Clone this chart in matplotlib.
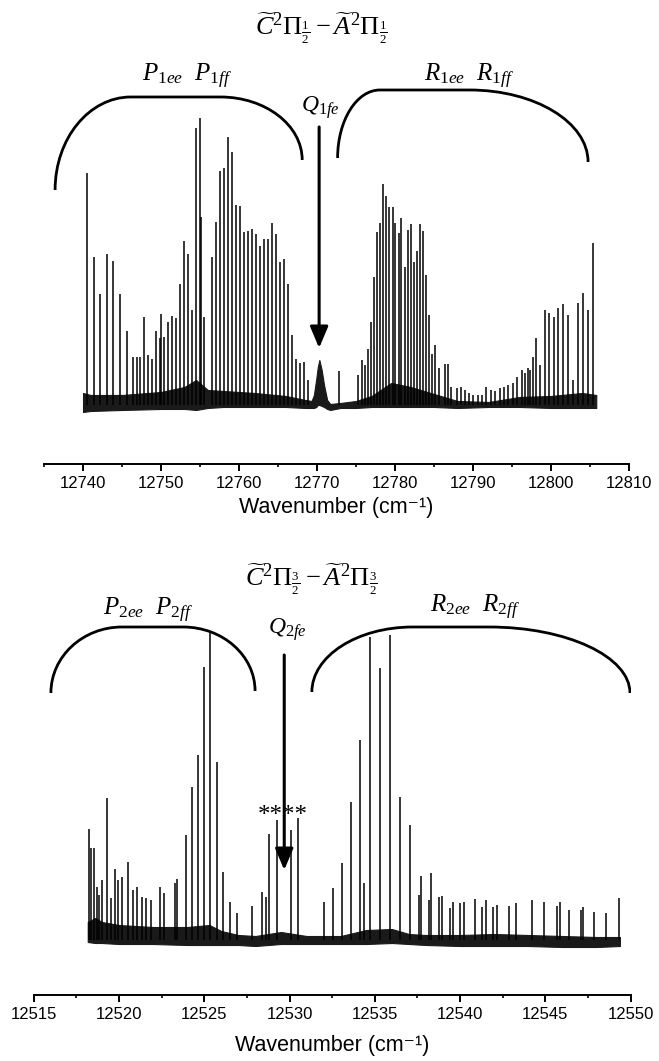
import matplotlib
matplotlib.use("Agg")
from matplotlib import pyplot as plt
from matplotlib.path import Path
from matplotlib.patches import PathPatch

plt.rcParams["font.family"] = "Liberation Sans"
plt.rcParams["mathtext.fontset"] = "custom"
plt.rcParams["mathtext.rm"] = "Liberation Serif"
plt.rcParams["mathtext.it"] = "Liberation Serif:italic"
plt.rcParams["mathtext.sf"] = "Liberation Sans"

# ---- upper spectrum: C2Pi(1/2) - A2Pi(1/2) ----
top_peak_wn = [
    12740.55, 12741.37, 12742.17, 12743.03, 12743.87, 12744.76, 12745.62, 12746.43, 12746.86, 12747.32,
    12747.79, 12748.34, 12748.85, 12749.32, 12749.83, 12750.05, 12750.34, 12750.86, 12751.37, 12751.88,
    12752.39, 12752.90, 12753.45, 12753.92, 12754.43, 12754.94, 12755.07, 12755.49, 12756.48, 12756.99,
    12757.54, 12758.05, 12758.61, 12759.12, 12759.63, 12760.14, 12760.65, 12761.16, 12761.67, 12762.18,
    12762.69, 12763.21, 12763.75, 12764.27, 12764.78, 12765.29, 12765.80, 12766.31, 12766.82, 12767.33,
    12767.84, 12768.35, 12768.86, 12772.82, 12775.29, 12775.72, 12776.10, 12776.53, 12776.91, 12777.33,
    12777.71, 12778.10, 12778.48, 12778.86, 12779.25, 12779.68, 12780.06, 12780.45, 12780.83, 12781.25,
    12781.63, 12782.02, 12782.44, 12782.82, 12783.21, 12783.64, 12784.02, 12784.41, 12784.79, 12785.17,
    12785.59, 12786.36, 12786.74, 12787.13, 12787.89, 12788.40, 12788.95, 12789.46, 12790.06, 12790.61,
    12791.17, 12791.72, 12792.27, 12792.83, 12793.42, 12793.98, 12794.53, 12795.08, 12795.64, 12796.23,
    12796.67, 12797.00, 12797.34, 12797.73, 12798.11, 12798.58, 12799.22, 12799.77, 12800.37, 12800.92,
    12801.56, 12802.16, 12802.84, 12803.47, 12804.11, 12804.75, 12805.39,
]
top_peak_int = [
    232, 148, 111, 151, 144, 111, 74, 48, 48, 48,
    88, 50, 46, 74, 67, 91, 68, 83, 89, 87,
    121, 164, 151, 95, 277, 287, 188, 88, 148, 183,
    234, 237, 268, 253, 200, 199, 173, 174, 176, 171,
    159, 166, 166, 182, 171, 143, 146, 121, 70, 46,
    42, 43, 25, 34, 30, 45, 40, 56, 83, 128,
    173, 182, 221, 209, 198, 198, 182, 172, 187, 138,
    175, 181, 143, 154, 181, 174, 130, 90, 51, 60,
    37, 41, 41, 18, 17, 18, 15, 12, 10, 10,
    10, 18, 15, 14, 17, 18, 20, 22, 28, 35,
    32, 37, 35, 48, 67, 40, 95, 92, 88, 97,
    101, 90, 25, 102, 112, 95, 162,
]
# noise band (lower / upper envelope), includes the broad Q1fe bump near 12770
top_noise_wn = [12740.0, 12741.0, 12745.0, 12750.0, 12753.0, 12754.5, 12756.0, 12758.0, 12762.0, 12766.0,
                12768.5, 12769.3, 12769.6, 12769.9, 12770.1, 12770.3, 12770.6, 12770.9, 12771.3, 12771.7,
                12773.0, 12775.0, 12777.0, 12779.5, 12782.0, 12785.0, 12788.0, 12792.0, 12796.0, 12800.0,
                12804.0, 12805.8]
top_noise_hi = [12, 10, 10, 13, 18, 25, 15, 14, 12, 9,
                5, 4, 10, 26, 38, 45, 35, 20, 5, 1,
                2, 4, 9, 22, 18, 11, 4, 3, 8, 9,
                12, 10]
top_noise_lo = [-7, -6, -5, -4, -4, -5, -3, -2, -2, -2,
                -3, -3, -3, -2, 0, 0, -1, -2, -4, -5,
                -3, -3, -2, -2, -2, -2, -3, -2, -2, -3,
                -3, -3]

# ---- lower spectrum: C2Pi(3/2) - A2Pi(3/2) ----
bot_peak_wn = [
    12518.26, 12518.34, 12518.55, 12518.69, 12518.85, 12519.02, 12519.31, 12519.53, 12519.75, 12519.96,
    12520.18, 12520.53, 12520.80, 12521.06, 12521.33, 12521.58, 12521.86, 12522.39, 12522.64, 12523.30,
    12523.42, 12523.93, 12524.28, 12524.61, 12524.98, 12525.33, 12525.73, 12526.10, 12526.51, 12526.90,
    12527.78, 12528.36, 12528.60, 12528.79, 12529.24, 12530.08, 12530.51, 12532.02, 12532.53, 12533.05,
    12533.62, 12534.16, 12534.38, 12534.73, 12535.30, 12535.88, 12536.45, 12537.04, 12537.57, 12537.69,
    12538.15, 12538.29, 12538.77, 12538.92, 12539.41, 12539.56, 12540.01, 12540.20, 12540.85, 12541.28,
    12541.49, 12541.90, 12542.14, 12542.88, 12543.25, 12544.23, 12544.93, 12545.66, 12545.85, 12546.36,
    12547.06, 12547.22, 12547.84, 12548.55, 12549.31,
]
bot_peak_int = [
    111, 92, 92, 53, 45, 60, 142, 42, 71, 60,
    63, 78, 50, 53, 43, 42, 40, 53, 47, 57,
    61, 105, 153, 185, 273, 307, 178, 68, 38, 27,
    34, 48, 43, 106, 120, 110, 122, 38, 52, 77,
    138, 200, 57, 303, 272, 305, 143, 115, 45, 64,
    40, 67, 43, 44, 32, 38, 37, 38, 41, 33,
    40, 33, 35, 34, 37, 40, 38, 34, 38, 30,
    30, 33, 28, 27, 42,
]
bot_noise_wn = [12518.17, 12518.6, 12519.0, 12520.0, 12522.0, 12524.0, 12525.3, 12526.0, 12527.0, 12528.0,
                12529.5, 12531.0, 12533.0, 12534.5, 12536.0, 12537.0, 12538.0, 12540.0, 12542.0, 12544.0,
                12546.0, 12548.0, 12549.37]
bot_noise_hi = [18, 22, 18, 15, 13, 13, 15, 9, 5, 4,
                8, 4, 4, 10, 11, 6, 5, 5, 6, 5,
                4, 3, 3]
bot_noise_lo = [-2, -3, -3, -4, -4, -5, -5, -5, -5, -6,
                -4, -4, -4, -4, -3, -4, -5, -6, -6, -6,
                -7, -7, -6]


def draw_spectrum(ax, peak_wn, peak_int, noise_wn, noise_lo, noise_hi):
    ax.fill_between(noise_wn, noise_lo, noise_hi, color="0.1", lw=0.8)
    ax.vlines(peak_wn, 0, peak_int, color="black", lw=1.1)


def bracket(ax, x0, y0, xa, xb, ytop, x1, y1):
    # two quarter-ellipse ends joined by a flat top
    k = 0.552
    verts = [(x0, y0), (x0, y0 + k * (ytop - y0)), (xa - k * (xa - x0), ytop), (xa, ytop),
             (xb, ytop),
             (xb + k * (x1 - xb), ytop), (x1, y1 + k * (ytop - y1)), (x1, y1)]
    codes = [Path.MOVETO, Path.CURVE4, Path.CURVE4, Path.CURVE4, Path.LINETO,
             Path.CURVE4, Path.CURVE4, Path.CURVE4]
    ax.add_patch(PathPatch(Path(verts, codes), fill=False, lw=2.0, color="black", capstyle="butt"))


def arrow(ax, x, y_from, y_to):
    ax.annotate("", xy=(x, y_to), xytext=(x, y_from),
                arrowprops=dict(arrowstyle="-|>,head_width=0.55,head_length=1.3",
                                lw=2.2, color="black", shrinkA=0, shrinkB=0))


def style_axis(ax, labelpad):
    for side in ["left", "right", "top"]:
        ax.spines[side].set_visible(False)
    ax.spines["bottom"].set_linewidth(1.4)
    ax.set_yticks([])
    ax.tick_params(axis="x", which="major", direction="out", length=4.8, width=1.4, labelsize=12, pad=4)
    ax.tick_params(axis="x", which="minor", direction="out", length=2.4, width=1.2)
    ax.set_xlabel("Wavenumber (cm\u207b\u00b9)", fontsize=15.5, labelpad=labelpad,
                  family=["Liberation Sans", "DejaVu Sans"])


fig = plt.figure(figsize=(6.59, 10.61), dpi=100)

ax1 = fig.add_axes([0.0668, 0.5627, 0.8877, 0.4373])
draw_spectrum(ax1, top_peak_wn, top_peak_int, top_noise_wn, top_noise_lo, top_noise_hi)
ax1.set_xlim(12735, 12810)
ax1.set_ylim(-59, 405)
ax1.set_xticks(range(12740, 12811, 10))
ax1.set_xticks(range(12735, 12810, 10), minor=True)
style_axis(ax1, 4)
ax1.text(12770.6, 377, r"$\widetilde{C}^2\Pi_{\frac{1}{2}} - \widetilde{A}^2\Pi_{\frac{1}{2}}$",
         fontsize=19, ha="center", va="center")
ax1.text(12753.4, 329, r"$P_{1ee}\ \ P_{1ff}$", fontsize=18, ha="center", va="center")
ax1.text(12789.5, 329, r"$R_{1ee}\ \ R_{1ff}$", fontsize=18, ha="center", va="center")
ax1.text(12770.5, 297, r"$Q_{1fe}$", fontsize=17, ha="center", va="center")
bracket(ax1, 12736.42, 215, 12746.13, 12757.62, 308, 12768.10, 245)
bracket(ax1, 12772.64, 247, 12778.06, 12789.55, 315, 12804.75, 243)
arrow(ax1, 12770.27, 278, 57)

ax2 = fig.add_axes([0.0511, 0.0622, 0.9059, 0.41])
draw_spectrum(ax2, bot_peak_wn, bot_peak_int, bot_noise_wn, bot_noise_lo, bot_noise_hi)
ax2.set_xlim(12515, 12550)
ax2.set_ylim(-55, 380)
ax2.set_xticks(range(12515, 12551, 5))
ax2.set_xticks([12517.5 + 5 * i for i in range(7)], minor=True)
style_axis(ax2, 9)
ax2.text(12531.25, 361, r"$\widetilde{C}^2\Pi_{\frac{3}{2}} - \widetilde{A}^2\Pi_{\frac{3}{2}}$",
         fontsize=19, ha="center", va="center")
ax2.text(12521.7, 330, r"$P_{2ee}\ \ P_{2ff}$", fontsize=18, ha="center", va="center")
ax2.text(12540.9, 333, r"$R_{2ee}\ \ R_{2ff}$", fontsize=18, ha="center", va="center")
ax2.text(12529.85, 310, r"$Q_{2fe}$", fontsize=17, ha="center", va="center")
bracket(ax2, 12516.01, 247, 12520.18, 12523.76, 313, 12527.98, 249)
bracket(ax2, 12531.31, 248, 12537.23, 12541.69, 313, 12549.96, 247)
arrow(ax2, 12529.69, 285, 70)
ax2.text(12529.61, 124, "****", fontsize=18, family="Liberation Serif", ha="center", va="center")

fig.savefig("out.png", dpi=100)
